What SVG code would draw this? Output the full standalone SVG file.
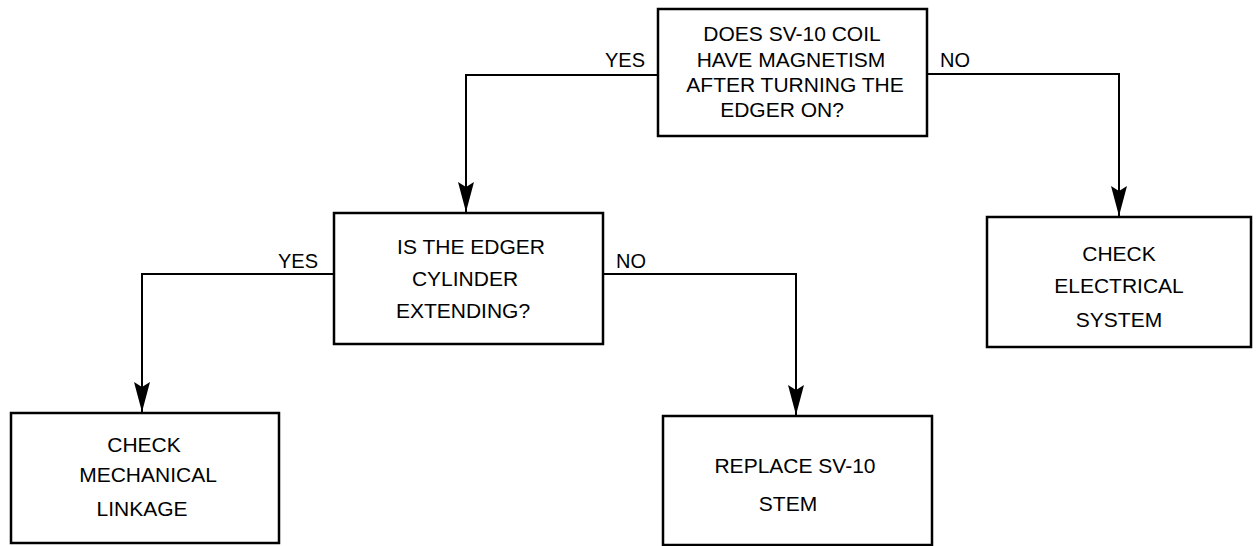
<svg xmlns="http://www.w3.org/2000/svg" width="1256" height="546" viewBox="0 0 1256 546">
  <style>
    .box { fill: #ffffff; stroke: #000000; stroke-width: 2.5; }
    .conn { fill: none; stroke: #000000; stroke-width: 2; }
    .t { font-family: "Liberation Sans", Arial, Helvetica, sans-serif; font-size: 21px; fill: #000000; text-anchor: middle; }
    .lbl { font-family: "Liberation Sans", Arial, Helvetica, sans-serif; font-size: 20px; fill: #000000; }
  </style>
  <defs>
    <marker id="arrow" viewBox="0 0 30 18" refX="30" refY="9" markerWidth="30" markerHeight="18" markerUnits="userSpaceOnUse" orient="auto">
      <path d="M0,1 L30,9 L0,17 L5,9 Z" fill="#000000"/>
    </marker>
  </defs>
  <rect width="1256" height="546" fill="#ffffff"/>

  <g id="connectors">
    <path class="conn" d="M658,75 H466 V212" marker-end="url(#arrow)"/>
    <path class="conn" d="M927,74 H1119 V216" marker-end="url(#arrow)"/>
    <path class="conn" d="M334,274 H142 V412" marker-end="url(#arrow)"/>
    <path class="conn" d="M603,274 H796 V415" marker-end="url(#arrow)"/>
    <text class="lbl" x="645" y="67" text-anchor="end">YES</text>
    <text class="lbl" x="940" y="67">NO</text>
    <text class="lbl" x="318" y="268" text-anchor="end">YES</text>
    <text class="lbl" x="616" y="268">NO</text>
  </g>

  <g id="q1">
    <rect class="box" x="658" y="9" width="269" height="127"/>
    <text class="t" x="792" y="41">DOES SV-10 COIL</text>
    <text class="t" x="791" y="67">HAVE MAGNETISM</text>
    <text class="t" x="795" y="92">AFTER TURNING THE</text>
    <text class="t" x="782" y="117">EDGER ON?</text>
  </g>

  <g id="q2">
    <rect class="box" x="334" y="213" width="269" height="131"/>
    <text class="t" x="471" y="254">IS THE EDGER</text>
    <text class="t" x="465" y="286">CYLINDER</text>
    <text class="t" x="463" y="318">EXTENDING?</text>
  </g>

  <g id="mech">
    <rect class="box" x="11" y="413" width="268" height="130"/>
    <text class="t" x="144" y="452">CHECK</text>
    <text class="t" x="148" y="482">MECHANICAL</text>
    <text class="t" x="142" y="516">LINKAGE</text>
  </g>

  <g id="replace">
    <rect class="box" x="663" y="416" width="269" height="129"/>
    <text class="t" x="795" y="473">REPLACE SV-10</text>
    <text class="t" x="788" y="511">STEM</text>
  </g>

  <g id="elec">
    <rect class="box" x="987" y="217" width="264" height="130"/>
    <text class="t" x="1119" y="261">CHECK</text>
    <text class="t" x="1119" y="293">ELECTRICAL</text>
    <text class="t" x="1119" y="327">SYSTEM</text>
  </g>
</svg>
